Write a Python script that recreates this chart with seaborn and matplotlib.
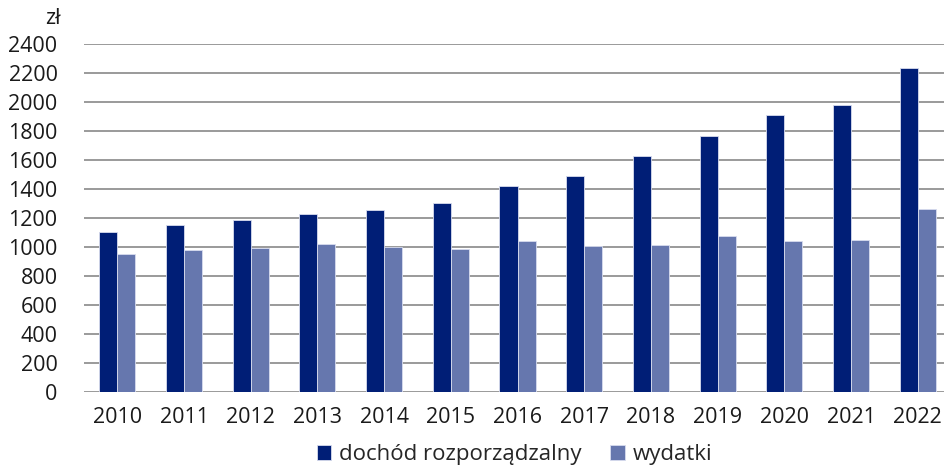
import matplotlib
matplotlib.use("Agg")
import matplotlib.pyplot as plt
import seaborn as sns
import pandas as pd

# dane (zł)
years = ["2010", "2011", "2012", "2013", "2014", "2015", "2016",
         "2017", "2018", "2019", "2020", "2021", "2022"]
dochod = [1103, 1152, 1186, 1228, 1255, 1303, 1421,
          1490, 1628, 1766, 1910, 1979, 2234]
wydatki = [952, 979, 993, 1021, 1000, 986, 1041,
           1007, 1014, 1076, 1041, 1048, 1262]
series = ["dochód rozporządzalny", "wydatki"]
colors = ["#001e76", "#6677ae"]

df = pd.DataFrame({
    "rok": years * 2,
    "seria": [series[0]] * len(years) + [series[1]] * len(years),
    "wartosc": dochod + wydatki,
})

sns.set_style("white")
plt.rcParams["font.family"] = ["Open Sans", "DejaVu Sans"]
fs = 15.5

fig = plt.figure(figsize=(9.45, 4.68), dpi=100)
ax = fig.add_axes([84 / 945, 76 / 468, 867 / 945, 348 / 468])

sns.barplot(data=df, x="rok", y="wartosc", hue="seria", palette=colors,
            saturation=1, width=0.54, edgecolor="#d8dcee", linewidth=0.6,
            ax=ax, zorder=3)

ax.set_ylim(0, 2400)
ax.set_yticks(range(0, 2401, 200))
ax.yaxis.grid(True, color="#7f7f7f", linewidth=1.1, zorder=0)
ax.set_axisbelow(True)
for s in ax.spines.values():
    s.set_visible(False)
ax.tick_params(axis="both", length=0, labelsize=fs, colors="#1a1a1a")
ax.tick_params(axis="y", pad=19)
ax.tick_params(axis="x", pad=11)
ax.set_xlabel("")
ax.set_ylabel("")

fig.text(53 / 945, 1 - 19 / 468, "zł", fontsize=fs, color="#1a1a1a",
         ha="center", va="center")

ax.legend(loc="center", bbox_to_anchor=(0.5 - 3 / 867, -0.18), ncol=2,
          frameon=False, fontsize=16, handlelength=0.65, handleheight=0.65,
          handletextpad=0.35, columnspacing=1.3, borderaxespad=0)

fig.savefig("out.png", dpi=100)
